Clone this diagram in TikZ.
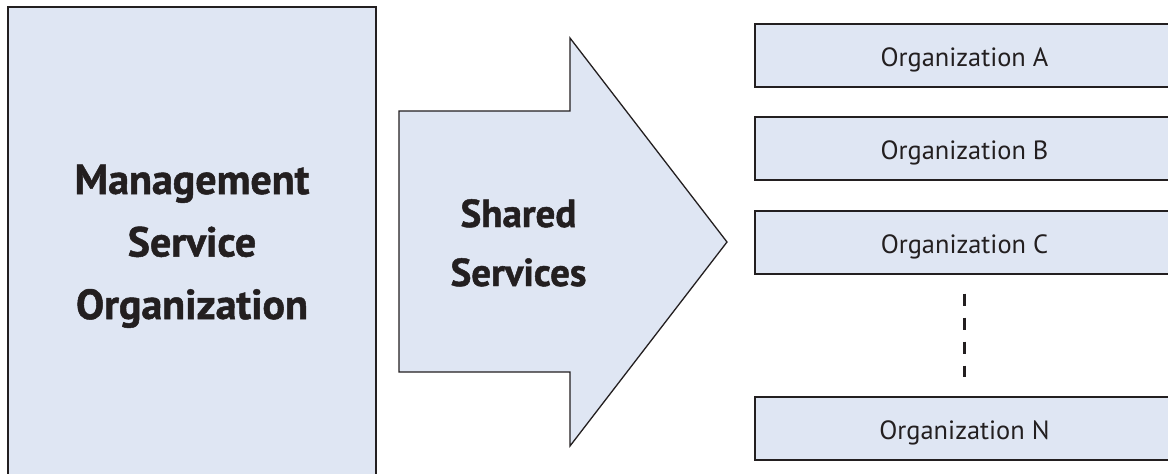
\documentclass[tikz,border=0pt]{standalone}
\usepackage{fontspec}
\setmainfont{PT Sans}
\newfontfamily\heavyfont[BoldFeatures={FakeBold=1.2}]{PT Sans}
\definecolor{boxfill}{RGB}{223,230,243}
\definecolor{ink}{RGB}{35,31,32}
\begin{document}
\begin{tikzpicture}[x=1pt,y=-1pt,
  panel/.style={draw=ink, fill=boxfill, line width=2pt, inner sep=0pt, outer sep=0pt},
  orgbox/.style={panel, minimum width=419pt, minimum height=63pt,
    text height=22pt, text depth=0pt,
    font=\fontsize{26.4}{30}\selectfont, text=ink},
  bigtext/.style={font=\heavyfont\bfseries\fontsize{42}{62.5}\selectfont, align=center,
    text=ink, inner sep=0pt, anchor=base},
  midtext/.style={font=\heavyfont\bfseries\fontsize{39}{59}\selectfont, align=center,
    text=ink, inner sep=0pt, anchor=base},
  ellipsis/.style={draw=ink, line width=2.5pt, dash pattern=on 12pt off 12pt},
]
\useasboundingbox (0,0) rectangle (1168,474);
\clip (0,0) rectangle (1168,474);

% the managing organisation (its lower edge runs off the page)
\node[panel, minimum width=368pt, minimum height=472pt] (mso) at (192,243) {};
% anchored at the baseline of the last line
\node[bigtext] (msotext) at (192,319) {Management\\Service\\Organization};

% the shared-services arrow
\draw[draw=ink, fill=boxfill, line width=1.3pt, line join=miter]
  (399,111) -- (570,111) -- (570,38) -- (727,242) -- (570,446)
  -- (570,372) -- (399,372) -- cycle;
\node[midtext] (shared) at (518.5,286) {Shared\\Services};

% the member organisations (their right edges run off the page)
\node[orgbox] (orgA) at (964.5,55.5) {Organization A};
\node[orgbox] (orgB) at (964.5,148.5) {Organization B};
\node[orgbox] (orgC) at (964.5,242) {Organization C};
\node[orgbox] (orgN) at (964.5,428) {Organization N};

\draw[ellipsis] ([yshift=-20pt]orgC.south) -- ([yshift=20pt]orgN.north);
\end{tikzpicture}
\end{document}
